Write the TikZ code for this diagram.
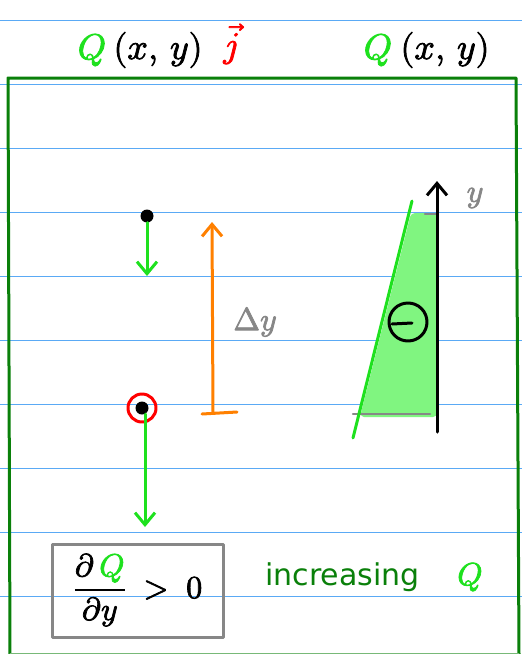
\documentclass[tikz,border=0pt]{standalone}
\usepackage{fontspec}
\usepackage{amsmath}
\usepackage{unicode-math}
\setmathfont{Latin Modern Math}[FakeBold=2.2]
\newfontfamily\dejavu{DejaVu Sans}
\usetikzlibrary{arrows.meta}
\definecolor{ruleblue}{RGB}{90,170,245}
\definecolor{framegreen}{RGB}{10,128,10}
\definecolor{brightgreen}{RGB}{30,225,30}
\definecolor{fillgreen}{RGB}{128,245,128}
\definecolor{orangeA}{RGB}{255,128,0}
\definecolor{grayA}{RGB}{135,135,135}
\begin{document}
\begin{tikzpicture}[x=1pt,y=-1pt,line cap=round,line join=round,
  rulestyle/.style={ruleblue,line width=1pt},
  vee/.style={-{Straight Barb[length=12pt,width=20pt]}},
  pen/.style={line width=3pt},
  dot/.style={circle,fill=black,inner sep=0pt,minimum size=13pt},
  hand/.style={inner sep=0pt,font=\fontsize{36}{40}\selectfont},
  handsmall/.style={inner sep=0pt,font=\fontsize{32}{36}\selectfont},
]
\fill[white] (0,0) rectangle (522,654);
\path[use as bounding box] (0,0) rectangle (522,654);
\foreach \yy in {20,84,148,212,276,340,404,468,532,596}
  \draw[rulestyle] (0,\yy) -- (522,\yy);
% frame
\coordinate (fbl) at (10,654);
\coordinate (ftl) at (8,78);
\coordinate (ftr) at (516,78);
\coordinate (fbr) at (519,654);
\draw[framegreen,line width=3pt,line cap=butt] (fbl) -- (ftl) -- (ftr) -- (fbr);
\coordinate (bb1) at (10,653);
\coordinate (bb2) at (519,653);
\draw[framegreen!55,line width=0.8pt] (bb1) -- (bb2);
% top labels
\node[hand,text=brightgreen] (q1) at (92,50) {$Q$};
\node[hand] (xy1) at (158,50) {$(x,\,y)$};
\node[hand,text=red] (j1) at (231,44) {$\vec{j}$};
\node[hand,text=brightgreen] (q2) at (378,50) {$Q$};
\node[hand] (xy2) at (445,50) {$(x,\,y)$};
% upper point
\node[dot] (p1) at (147,216) {};
\coordinate (a1) at (147,276);
\draw[brightgreen,pen,vee] (p1) -- (a1);
% orange delta y
\coordinate (ob) at (213,412);
\coordinate (ot) at (212,222);
\draw[orangeA,pen,vee] (ob) -- (ot);
\coordinate (tl) at (202,414);
\coordinate (tr) at (237,412);
\draw[orangeA,pen] (tl) -- (tr);
\node[handsmall,text=grayA] (dy) at (255,322) {$\Delta y$};
% lower point
\node[circle,draw=red,line width=3pt,minimum size=28pt,inner sep=0pt] (rc) at (142,408) {};
\node[dot] (p2) at (142,408) {};
\coordinate (a2s) at (145,414);
\coordinate (a2) at (145,527);
\draw[brightgreen,pen,vee] (a2s) -- (a2);
% right sketch
\coordinate (w1) at (411,213);
\coordinate (w2) at (437,213);
\coordinate (w3) at (437,417);
\coordinate (w4) at (360,417);
\fill[fillgreen,rounded corners=4pt] (w1) -- (w2) -- (w3) -- (w4) -- cycle;
\coordinate (g1) at (425,214);
\coordinate (g2) at (437,214);
\coordinate (g3) at (353,414);
\coordinate (g4) at (430,414);
\draw[grayA,line width=2.5pt] (g1) -- (g2);
\draw[grayA,line width=2.5pt] (g3) -- (g4);
\coordinate (s1) at (353,438);
\coordinate (s2) at (412,201);
\draw[brightgreen,pen] (s1) -- (s2);
\coordinate (ya) at (437,432);
\coordinate (yb) at (437,181);
\draw[black,pen,vee] (ya) -- (yb);
\node[handsmall,text=grayA] (ylab) at (475,198) {$y$};
\node[circle,draw,line width=3pt,minimum size=38pt,inner sep=0pt] (cm) at (408,322) {};
\coordinate (m1) at (392,324);
\coordinate (m2) at (412,323);
\draw[pen] (m1) -- (m2);
% box
\node[draw=grayA,line width=3pt,minimum width=171pt,minimum height=93pt,inner sep=0pt] (box) at (137.5,590.5) {};
\node[inner sep=0pt,font=\fontsize{32}{36}\selectfont] (deriv) at (138,590) {$\dfrac{\partial\,\textcolor{brightgreen}{Q}}{\partial y}\;>\;0$};
\node[text=framegreen,font=\dejavu\fontsize{30}{34}\selectfont,anchor=base west,inner sep=0pt] (inc) at (265,585) {increasing};
\node[handsmall,text=brightgreen] (q3) at (470,577) {$Q$};
\end{tikzpicture}
\end{document}
